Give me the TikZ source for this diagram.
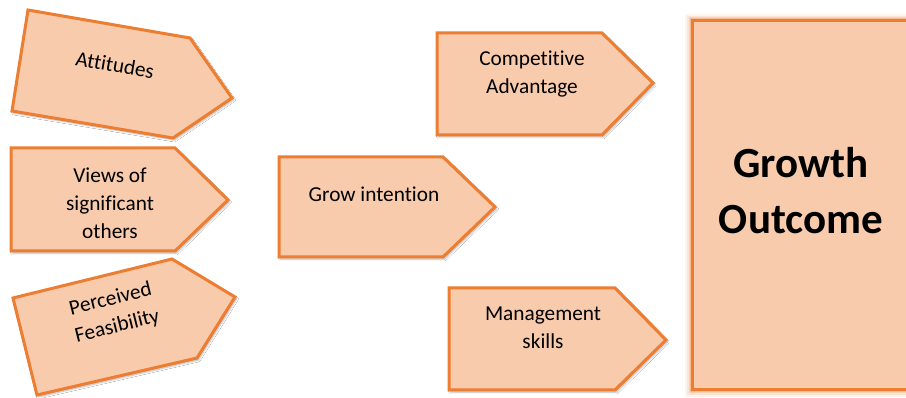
\documentclass[tikz,border=0pt]{standalone}
\usepackage{fontspec}
\setmainfont{Carlito}[Ligatures={NoCommon}]
\usetikzlibrary{shadows.blur}
\definecolor{boxfill}{HTML}{F8CBAD}
\definecolor{boxline}{HTML}{ED7D31}
\tikzset{
  penta/.style={draw=boxline, fill=boxfill, line width=3pt, line join=miter,
    blur shadow={shadow xshift=1.5pt, shadow yshift=-2pt, shadow blur steps=6, shadow opacity=30}},
  lbl/.style={font=\fontsize{21.3}{28}\selectfont, align=center, text=black, inner sep=0pt},
  big/.style={font=\fontsize{43}{56}\selectfont\bfseries, align=center, text=black, inner sep=0pt}
}
\begin{document}
\begin{tikzpicture}[x=1pt, y=-1pt]
\useasboundingbox (0,0) rectangle (906,398);
\clip (0,0) rectangle (906,398);
\fill[white] (0,0) rectangle (906,398);
% Growth outcome box with glow
\foreach \w/\o in {14/0.08, 10/0.12, 7/0.18, 5/0.25}
  \draw[boxline, line width=\w pt, opacity=\o] (692,21) rectangle (930,390);
\draw[draw=boxline, fill=boxfill, line width=3pt] (692,21) rectangle (930,390);
\node[big] (growth) at (801,191) {Growth\\Outcome};
% pentagons
\draw[penta] (28,10) -- (190,38) -- (232,98) -- (173,138) -- (12,111) -- cycle;
\node[lbl, rotate=-10] (att) at (115,65) {Attitudes};
\draw[penta] (11,148) -- (175,148) -- (228,200) -- (175,251) -- (11,251) -- cycle;
\node[lbl] (views) at (110,203) {Views of\\significant\\others};
\draw[penta] (13,298) -- (172,259) -- (235,297) -- (197,358) -- (37,395) -- cycle;
\node[lbl, rotate=14] (feas) at (114,313) {Perceived\\Feasibility};
\draw[penta] (279,157) -- (443,157) -- (495,207) -- (443,257) -- (279,257) -- cycle;
\node[lbl] (grow) at (374,194) {Grow intention};
\draw[penta] (437,33) -- (602,33) -- (653,83) -- (602,135) -- (437,135) -- cycle;
\node[lbl] (comp) at (532,74) {Competitive\\Advantage};
\draw[penta] (449,288) -- (615,288) -- (666,340) -- (615,390) -- (449,390) -- cycle;
\node[lbl] (mgmt) at (543,328) {Management\\skills};
\end{tikzpicture}
\end{document}
